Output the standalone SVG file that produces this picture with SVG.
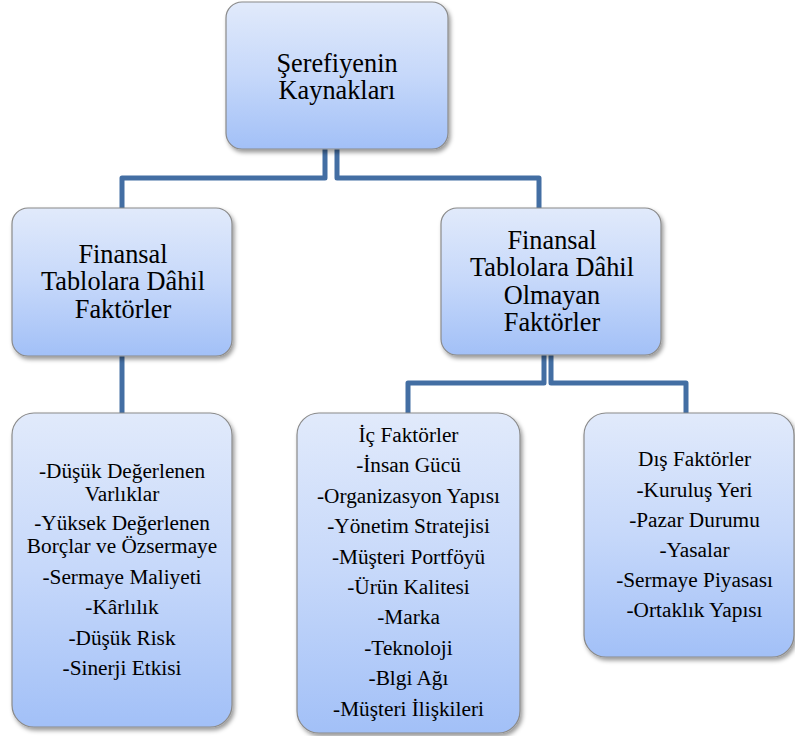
<svg xmlns="http://www.w3.org/2000/svg" width="795" height="736" viewBox="0 0 795 736">
<defs>
<linearGradient id="g" x1="0" y1="0" x2="0" y2="1">
<stop offset="0" stop-color="#e1eafb"/>
<stop offset="0.5" stop-color="#c6d8fa"/>
<stop offset="1" stop-color="#a2c0f7"/>
</linearGradient>
<filter id="sh" x="-10%" y="-10%" width="125%" height="125%">
<feDropShadow dx="2" dy="3" stdDeviation="2.2" flood-color="#000" flood-opacity="0.4"/>
</filter>
</defs>
<style>
.box{fill:url(#g);stroke:#8a8a8a;stroke-width:1.2;filter:url(#sh)}
.t{font-family:"Liberation Serif","Times New Roman",serif;fill:#000;text-anchor:middle}
.big{font-size:26.3px}
.sm{font-size:21.3px}
.c{fill:none;stroke:#436ea3;stroke-width:5;stroke-linejoin:round}
</style>
<rect width="795" height="736" fill="#fff"/>
<g id="connectors">
<path class="c" d="M325,149 V178 H122 V208"/>
<path class="c" d="M337,149 V178 H539 V208"/>
<path class="c" d="M122,356 V413"/>
<path class="c" d="M544,355 V383 H408 V413"/>
<path class="c" d="M551,355 V383 H686 V413"/>
</g>
<g id="root">
<rect class="box" x="226" y="2" width="222" height="147" rx="16"/>
<text class="t big" x="337" y="72">Şerefiyenin</text>
<text class="t big" x="337" y="99">Kaynakları</text>
</g>
<g id="included">
<rect class="box" x="12" y="208" width="220" height="148" rx="16"/>
<text class="t big" x="123" y="262.5">Finansal</text>
<text class="t big" x="123" y="290">Tablolara Dâhil</text>
<text class="t big" x="123" y="317.5">Faktörler</text>
</g>
<g id="notincluded">
<rect class="box" x="441" y="208" width="220" height="147" rx="16"/>
<text class="t big" x="552" y="248.5">Finansal</text>
<text class="t big" x="552" y="276">Tablolara Dâhil</text>
<text class="t big" x="552" y="303.5">Olmayan</text>
<text class="t big" x="552" y="331">Faktörler</text>
</g>
<g id="includedlist">
<rect class="box" x="12" y="413" width="220" height="314" rx="22"/>
<text class="t sm" x="122" y="478">-Düşük Değerlenen</text>
<text class="t sm" x="122" y="501">Varlıklar</text>
<text class="t sm" x="122" y="530">-Yüksek Değerlenen</text>
<text class="t sm" x="122" y="553">Borçlar ve Özsermaye</text>
<text class="t sm" x="122" y="584">-Sermaye Maliyeti</text>
<text class="t sm" x="122" y="614">-Kârlılık</text>
<text class="t sm" x="122" y="645">-Düşük Risk</text>
<text class="t sm" x="122" y="675">-Sinerji Etkisi</text>
</g>
<g id="internal">
<rect class="box" x="297" y="413" width="223" height="320" rx="22"/>
<text class="t sm" x="408.5" y="442">İç Faktörler</text>
<text class="t sm" x="408.5" y="472.4">-İnsan Gücü</text>
<text class="t sm" x="408.5" y="502.8">-Organizasyon Yapısı</text>
<text class="t sm" x="408.5" y="533.2">-Yönetim Stratejisi</text>
<text class="t sm" x="408.5" y="563.6">-Müşteri Portföyü</text>
<text class="t sm" x="408.5" y="594">-Ürün Kalitesi</text>
<text class="t sm" x="408.5" y="624.4">-Marka</text>
<text class="t sm" x="408.5" y="654.8">-Teknoloji</text>
<text class="t sm" x="408.5" y="685.2">-Blgi Ağı</text>
<text class="t sm" x="408.5" y="715.6">-Müşteri İlişkileri</text>
</g>
<g id="external">
<rect class="box" x="584" y="413" width="210" height="244" rx="22"/>
<text class="t sm" x="694.5" y="466">Dış Faktörler</text>
<text class="t sm" x="694.5" y="496.5">-Kuruluş Yeri</text>
<text class="t sm" x="694.5" y="526.5">-Pazar Durumu</text>
<text class="t sm" x="694.5" y="556.5">-Yasalar</text>
<text class="t sm" x="694.5" y="586.5">-Sermaye Piyasası</text>
<text class="t sm" x="694.5" y="616.5">-Ortaklık Yapısı</text>
</g>
</svg>
